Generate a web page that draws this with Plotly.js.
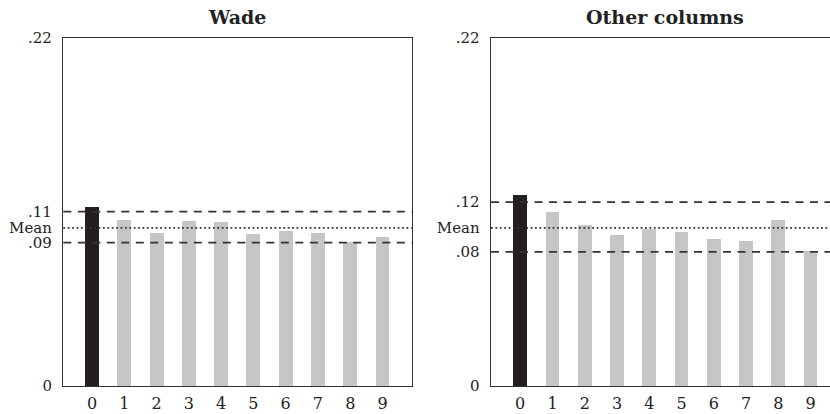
<!DOCTYPE html>
<html>
<head>
<meta charset="utf-8">
<script src="https://cdn.plot.ly/plotly-3.0.1.min.js"></script>
<style>html,body{margin:0;padding:0;background:#fff;overflow:hidden;}</style>
</head>
<body>
<div id="chart" style="width:830px;height:414px;"></div>
<script>
// ---- data ----
const digits = [0, 1, 2, 3, 4, 5, 6, 7, 8, 9];
const digitLabels = ["0", "1", "2", "3", "4", "5", "6", "7", "8", "9"];
const wadeShares = [0.113, 0.1047, 0.0967, 0.1043, 0.1037, 0.0963, 0.0980, 0.0967, 0.0912, 0.0944];
const otherShares = [0.1207, 0.1098, 0.1018, 0.0952, 0.0990, 0.0973, 0.0929, 0.0919, 0.1051, 0.0851];
const meanShare = 0.1;
const wadeBand = [0.0906, 0.1103];
const otherBand = [0.0848, 0.1163];
const wadeBandLabels = [".09", ".11"];
const otherBandLabels = [".08", ".12"];
const panelTitles = ["Wade", "Other columns"];
const yMax = 0.22;

const serif = "DejaVu Serif, Liberation Serif, serif";
const dark = "#222222";
const barColors = digits.map(d => d === 0 ? "#231f20" : "#c6c6c6");

const traces = [
  {type: "bar", x: digits, y: wadeShares, xaxis: "x", yaxis: "y",
   marker: {color: barColors, line: {width: 0}}, width: 0.43, hoverinfo: "x+y"},
  {type: "bar", x: digits, y: otherShares, xaxis: "x2", yaxis: "y2",
   marker: {color: barColors, line: {width: 0}}, width: 0.43, hoverinfo: "x+y"}
];

function refLines(xref, yref, band) {
  const dashed = {color: "#333333", width: 1.8, dash: "8px,6.5px"};
  const dotted = {color: "#333333", width: 1.6, dash: "1.8px,2.6px"};
  return [
    {type: "line", xref: xref + " domain", yref: yref, x0: 0, x1: 1, y0: band[1], y1: band[1], line: dashed, layer: "above"},
    {type: "line", xref: xref + " domain", yref: yref, x0: 0, x1: 1, y0: meanShare, y1: meanShare, line: dotted, layer: "above"},
    {type: "line", xref: xref + " domain", yref: yref, x0: 0, x1: 1, y0: band[0], y1: band[0], line: dashed, layer: "above"}
  ];
}

const yTickFont = {family: serif, size: 15, color: dark};
const xTickFont = {family: serif, size: 16, color: dark};
const yDomain = [0.0676, 0.9082];

function yAxis(band, bandLabels, mirror) {
  return {
    domain: yDomain, range: [0, yMax], fixedrange: true,
    tickmode: "array",
    tickvals: [0, band[0], meanShare, band[1], yMax],
    ticktext: ["0", bandLabels[0], "Mean", bandLabels[1], ".22"],
    ticks: "", ticklen: 0, showgrid: false, zeroline: false,
    showline: true, linecolor: "#333333", linewidth: 1.4, mirror: mirror,
    tickfont: yTickFont, ticklabelstandoff: 7
  };
}
function xAxis(domain, range, anchor) {
  return {
    domain: domain, range: range, anchor: anchor, fixedrange: true,
    tickmode: "array", tickvals: digits, ticktext: digitLabels,
    ticks: "", ticklen: 0, showgrid: false, zeroline: false,
    showline: true, linecolor: "#333333", linewidth: 1.4, mirror: true,
    tickfont: xTickFont, ticklabelstandoff: 2
  };
}

const layout = {
  width: 830, height: 414,
  margin: {l: 0, r: 0, t: 0, b: 0},
  paper_bgcolor: "#ffffff", plot_bgcolor: "#ffffff",
  showlegend: false, bargap: 0,
  xaxis: xAxis([0.0763, 0.4960], [-0.889, 9.904], "y"),
  yaxis: yAxis(wadeBand, wadeBandLabels, true),
  xaxis2: xAxis([0.5916, 1.0], [-0.905, 9.603], "y2"),
  yaxis2: Object.assign(yAxis(otherBand, otherBandLabels, false), {anchor: "x2"}),
  shapes: refLines("x", "y", wadeBand).concat(refLines("x2", "y2", otherBand)),
  annotations: [
    {text: "<b>" + panelTitles[0] + "</b>", xref: "paper", yref: "paper", x: 0.2855, y: 0.959,
     xanchor: "center", yanchor: "middle", showarrow: false, font: {family: serif, size: 19, color: dark}},
    {text: "<b>" + panelTitles[1] + "</b>", xref: "paper", yref: "paper", x: 0.8012, y: 0.959,
     xanchor: "center", yanchor: "middle", showarrow: false, font: {family: serif, size: 19, color: dark}}
  ]
};
layout.yaxis.anchor = "x";

Plotly.newPlot("chart", traces, layout, {displayModeBar: false, staticPlot: true});
</script>
</body>
</html>
